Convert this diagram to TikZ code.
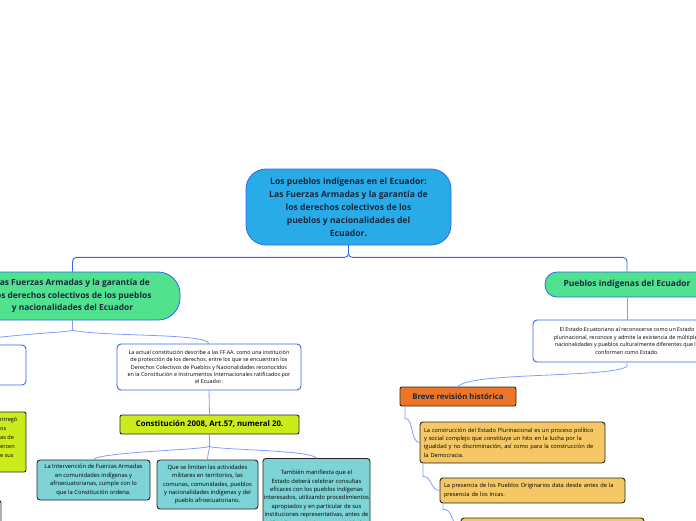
\documentclass[tikz,border=0pt]{standalone}
\usepackage{fontspec}
\setmainfont{Open Sans}
\usepackage{xcolor}
\usetikzlibrary{arrows.meta,positioning,calc}

\definecolor{rootblue}{HTML}{29ABE8}
\definecolor{edgeblue}{HTML}{3366EE}
\definecolor{linkblue}{HTML}{7F9CFF}
\definecolor{mintgreen}{HTML}{50E28E}
\definecolor{limeyel}{HTML}{CCEB1B}
\definecolor{tealbox}{HTML}{7DD3D5}
\definecolor{orangebox}{HTML}{EE7526}
\definecolor{sandbox}{HTML}{F5C865}
\definecolor{inkdark}{HTML}{1C2740}

\begin{document}
\begin{tikzpicture}[x=1pt, y=-1pt,
  rootbox/.style={draw=edgeblue, fill=rootblue, rounded corners=20pt, line width=0.8pt, align=center, text=inkdark, font=\fontsize{8.6}{13}\selectfont\bfseries, inner sep=0pt},
  mainbox/.style={draw=edgeblue, fill=mintgreen, rounded corners=12pt, line width=0.8pt, align=center, text=inkdark, font=\fontsize{8.4}{12.6}\selectfont\bfseries, inner sep=0pt},
  notebox/.style={draw=edgeblue, fill=white, rounded corners=4pt, line width=0.9pt, align=center, font=\fontsize{5.4}{7.4}\selectfont, inner sep=0pt},
  keybox/.style={draw=black!85, fill=limeyel, rounded corners=2pt, line width=0.9pt, align=center, font=\fontsize{7.8}{10}\selectfont\bfseries, inner sep=0pt},
  factbox/.style={draw=black!85, fill=tealbox, rounded corners=3pt, line width=0.9pt, align=center, font=\fontsize{5.8}{8.4}\selectfont, inner sep=0pt},
  histbox/.style={draw=black!85, fill=orangebox, rounded corners=2pt, line width=0.9pt, align=center, text=inkdark, font=\fontsize{7.8}{10}\selectfont\bfseries, inner sep=0pt},
  evtbox/.style={draw=black!85, fill=sandbox, rounded corners=3pt, line width=0.9pt, align=left, font=\fontsize{5.7}{8.4}\selectfont, inner sep=0pt},
  link/.style={draw=linkblue, line width=0.8pt},
  trunk/.style={draw=edgeblue, line width=0.9pt, rounded corners=4pt}]

\useasboundingbox (0,0) rectangle (696,520);
\clip (0,0) rectangle (696,520);

% central topic
\node[rootbox, minimum width=205, minimum height=76] (root) at (348.5,207)
  {Los pueblos indígenas en el Ecuador:\\Las Fuerzas Armadas y la garantía de\\los derechos colectivos de los\\pueblos y nacionalidades del\\Ecuador.};

% main branches
\node[mainbox, rounded corners=22pt, minimum width=215, minimum height=48] (ffaa) at (72.5,296)
  {Las Fuerzas Armadas y la garantía de\\los derechos colectivos de los pueblos\\y nacionalidades del Ecuador};
\node[mainbox, minimum width=164, minimum height=25] (pueblos) at (627,284.5)
  {Pueblos indígenas del Ecuador};

% left branch
\node[notebox, minimum width=166, minimum height=40] (prev) at (-57,365) {};
\node[notebox, minimum width=184, minimum height=46] (constit) at (209,367)
  {La actual constitución describe a las FF.AA. como una institución\\de protección de los derechos, entre los que se encuentran los\\Derechos Colectivos de Pueblos y Nacionalidades reconocidos\\en la Constitución e Instrumentos Internacionales ratificados por\\el Ecuador.};
\node[keybox, minimum width=179, minimum height=19] (art57) at (209.5,424.5)
  {Constitución 2008, Art.57, numeral 20.};
\node[keybox, minimum width=176, minimum height=60] (prevkey) at (-62,442) {};
\node[anchor=west, align=left, font=\fontsize{5.6}{9}\selectfont, inner sep=0pt] (prevtxt) at (0,437)
  {ntregó\\os\\as de\\ercen\\e sus};
\node[draw=black!85, line width=0.9pt, rounded corners=3pt, minimum width=61, minimum height=60] (prevnote) at (-29.5,530) {};

\node[factbox, minimum width=113, minimum height=40] (fact1) at (93.5,480)
  {La Intervención de Fuerzas Armadas\\en comunidades indígenas y\\afroecuatorianas, cumple con lo\\que la Constitución ordena.};
\node[factbox, minimum width=101, minimum height=49] (fact2) at (207.5,484.5)
  {Que se limiten las actividades\\militares en territorios, las\\comunas, comunidades, pueblos\\y nacionalidades indígenas y del\\pueblo afroecuatoriano.};
\node[factbox, anchor=north, minimum width=107, minimum height=80, inner ysep=5pt] (fact3) at (316.5,458)
  {También manifiesta que el\\Estado deberá celebrar consultas\\eficaces con los pueblos indígenas\\interesados, utilizando procedimientos\\apropiados y en particular de sus\\instituciones representativas, antes de\\utilizar los territorios para actividades};

% right branch
\node[notebox, minimum width=188, minimum height=42] (plural) at (627,341)
  {El Estado Ecuatoriano al reconocerse como un Estado\\plurinacional, reconoce y admite la existencia de múltiples\\nacionalidades y pueblos culturalmente diferentes que lo\\conforman como Estado.};
\node[histbox, minimum width=116, minimum height=19] (hist) at (458,396.5)
  {Breve revisión histórica};
\node[evtbox, minimum width=185, minimum height=41, text width=177] (evt1) at (512.5,442.5)
  {La construcción del Estado Plurinacional es un proceso político\\y social complejo que constituye un hito en la lucha por la\\igualdad y no discriminación, así como para la construcción de\\la Democracia.};
\node[evtbox, minimum width=185, minimum height=25, text width=177] (evt2) at (532.5,490.5)
  {La presencia de los Pueblos Originarios data desde antes de la\\presencia de los Incas.};
\node[evtbox, minimum width=183, minimum height=34] (evt3) at (552.5,535) {};

% connectors
\draw[trunk] (root.south) -- ++(0,12) -| (ffaa.north);
\draw[trunk] (root.south) -- ++(0,12) -| (pueblos.north);
\draw[link] (ffaa.south) -- ++(0,10) .. controls (60,333) and (20,333) .. (prev.north);
\draw[link] (ffaa.south) -- ++(0,10) .. controls (110,337) and (205,333) .. (constit.north);
\draw[link] (constit.south) -- (art57.north);
\draw[link] (art57.south) -- ++(0,12) .. controls (200,450) and (100,452) .. (fact1.north);
\draw[link] (art57.south) -- ++(0,12) .. controls (209,452) and (207.5,455) .. (fact2.north);
\draw[link] (art57.south) -- ++(0,12) .. controls (220,450) and (310,450) .. (fact3.north);
\draw[link] (pueblos.south) -- (plural.north);
\draw[link] (plural.south) -- ++(0,4) .. controls (610,378) and (470,372) .. (hist.north);
\draw[link] ([xshift=-53pt]hist.south) -- ++(0,12) .. controls (414,418) and (410,442) .. (evt1.west);
\draw[link] ([xshift=-89.5pt]evt1.south) -- ++(0,13) .. controls (432,476) and (430,490) .. (evt2.west);
\draw[link] ([xshift=-89.5pt]evt2.south) -- ++(0,6) .. controls (452,509) and (450,518) .. (evt3.west);
\end{tikzpicture}
\end{document}
